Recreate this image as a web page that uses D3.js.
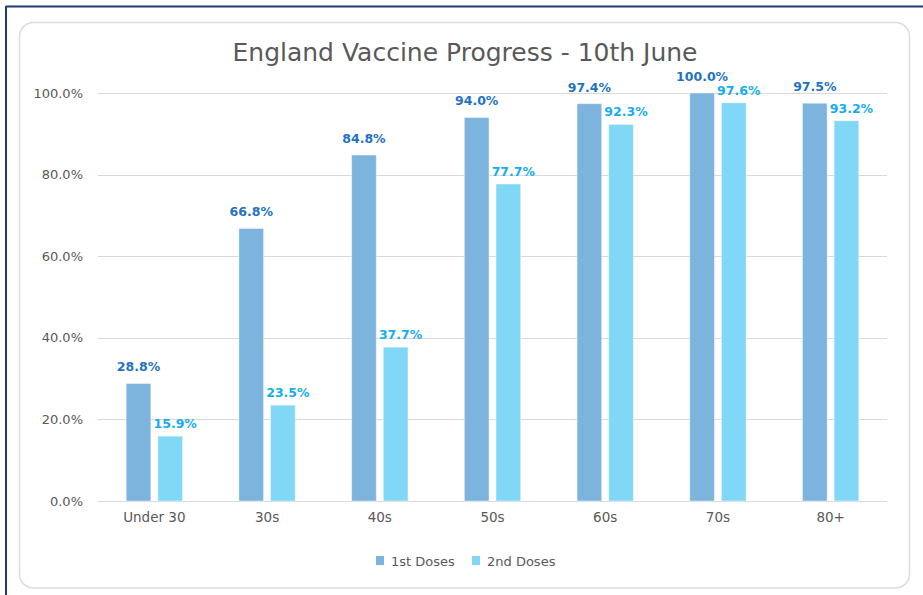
<!DOCTYPE html>
<html>
<head>
<meta charset="utf-8">
<script src="https://cdn.jsdelivr.net/npm/d3@7"></script>
<style>
  html, body { margin: 0; padding: 0; background: #ffffff; }
  svg { display: block; }
  text { font-family: "DejaVu Sans", "Liberation Sans", sans-serif; }
</style>
</head>
<body>
<svg id="chart" width="923" height="595"></svg>
<script>
// Age bands and dose uptake (percent)
const categories = ["Under 30", "30s", "40s", "50s", "60s", "70s", "80+"];
const seriesNames = ["1st Doses", "2nd Doses"];
const firstDoses = [28.8, 66.8, 84.8, 94.0, 97.4, 100.0, 97.5];
const secondDoses = [15.9, 23.5, 37.7, 77.7, 92.3, 97.6, 93.2];
const yTicks = [0, 20, 40, 60, 80, 100];
const titleText = "England Vaccine Progress - 10th June";

const barColors = ["#7db4de", "#80d7f6"];
const labelColors = ["#1f73c2", "#16adef"];
const textGrey = "#595959";
const fontFamily = "'DejaVu Sans', sans-serif";

// value-label placement per series: [dx, gap above bar]
const labelNudge = [[0, 12], [5, 8]];

const svg = d3.select("#chart");
const W = 923, H = 595;

// outer frame
svg.append("line").attr("x1", 6).attr("x2", W).attr("y1", 6.5).attr("y2", 6.5)
  .attr("stroke", "#1f3b73").attr("stroke-width", 2);
svg.append("line").attr("x1", 6).attr("x2", 6).attr("y1", 6).attr("y2", H)
  .attr("stroke", "#1f3b73").attr("stroke-width", 2);

// chart card
svg.append("rect").attr("x", 19.5).attr("y", 22.5).attr("width", 890).attr("height", 565.5)
  .attr("rx", 14).attr("ry", 14)
  .attr("fill", "#ffffff").attr("stroke", "#dcdcdc").attr("stroke-width", 1.5);

// title
svg.append("text").attr("x", 465).attr("y", 61).attr("text-anchor", "middle")
  .attr("font-size", 25).attr("fill", textGrey).text(titleText);

// scales
const x = d3.scaleBand().domain(categories).range([98, 887])
  .paddingInner(0.5).paddingOuter(0.25);
const xSub = d3.scaleBand().domain(seriesNames).range([0, x.bandwidth()])
  .paddingInner(0.22);
const y = d3.scaleLinear().domain([0, 100]).range([501, 93]);

// gridlines
svg.append("g").selectAll("line").data(yTicks).join("line")
  .attr("x1", 98).attr("x2", 887)
  .attr("y1", d => Math.round(y(d)) + 0.5).attr("y2", d => Math.round(y(d)) + 0.5)
  .attr("stroke", "#d9d9d9").attr("stroke-width", 1.2);

// y axis labels
const yAxis = d3.axisLeft(y).tickValues(yTicks)
  .tickFormat(d => d3.format(".1f")(d) + "%").tickSize(0).tickPadding(0);
const gy = svg.append("g").attr("transform", "translate(83,0)").call(yAxis);
gy.select(".domain").remove();
gy.selectAll("text").attr("font-size", 13).attr("fill", textGrey)
  .style("font-family", fontFamily);

// x axis labels
const xAxis = d3.axisBottom(x).tickSize(0).tickPadding(0);
const gx = svg.append("g").attr("transform", "translate(0,512)").call(xAxis);
gx.select(".domain").remove();
gx.selectAll("text").attr("font-size", 13.5).attr("fill", textGrey)
  .style("font-family", fontFamily);

// bars and labels
const rows = categories.map((c, i) => ({
  cat: c,
  vals: [
    { s: seriesNames[0], v: firstDoses[i], k: 0 },
    { s: seriesNames[1], v: secondDoses[i], k: 1 }
  ]
}));

const groups = svg.append("g").selectAll("g").data(rows).join("g")
  .attr("transform", d => `translate(${x(d.cat)},0)`);

groups.selectAll("rect").data(d => d.vals).join("rect")
  .attr("x", d => xSub(d.s))
  .attr("y", d => y(d.v))
  .attr("width", xSub.bandwidth())
  .attr("height", d => y(0) - y(d.v))
  .attr("fill", d => barColors[d.k])
  .attr("stroke", "rgba(255,255,255,0.45)").attr("stroke-width", 1);

groups.selectAll("text").data(d => d.vals).join("text")
  .attr("x", d => xSub(d.s) + xSub.bandwidth() / 2 + labelNudge[d.k][0])
  .attr("y", d => y(d.v) - labelNudge[d.k][1])
  .attr("text-anchor", "middle")
  .attr("font-size", 12.5).attr("font-weight", "bold")
  .attr("fill", d => labelColors[d.k])
  .text(d => d3.format(".1f")(d.v) + "%");

// legend
const legendX = [376, 472];
const lg = svg.append("g").selectAll("g").data(seriesNames).join("g")
  .attr("transform", (d, i) => `translate(${legendX[i]},556)`);
lg.append("rect").attr("width", 8).attr("height", 9)
  .attr("fill", (d, i) => barColors[i]);
lg.append("text").attr("x", 15).attr("y", 9.5).attr("font-size", 13)
  .attr("fill", textGrey).text(d => d);
</script>
</body>
</html>
